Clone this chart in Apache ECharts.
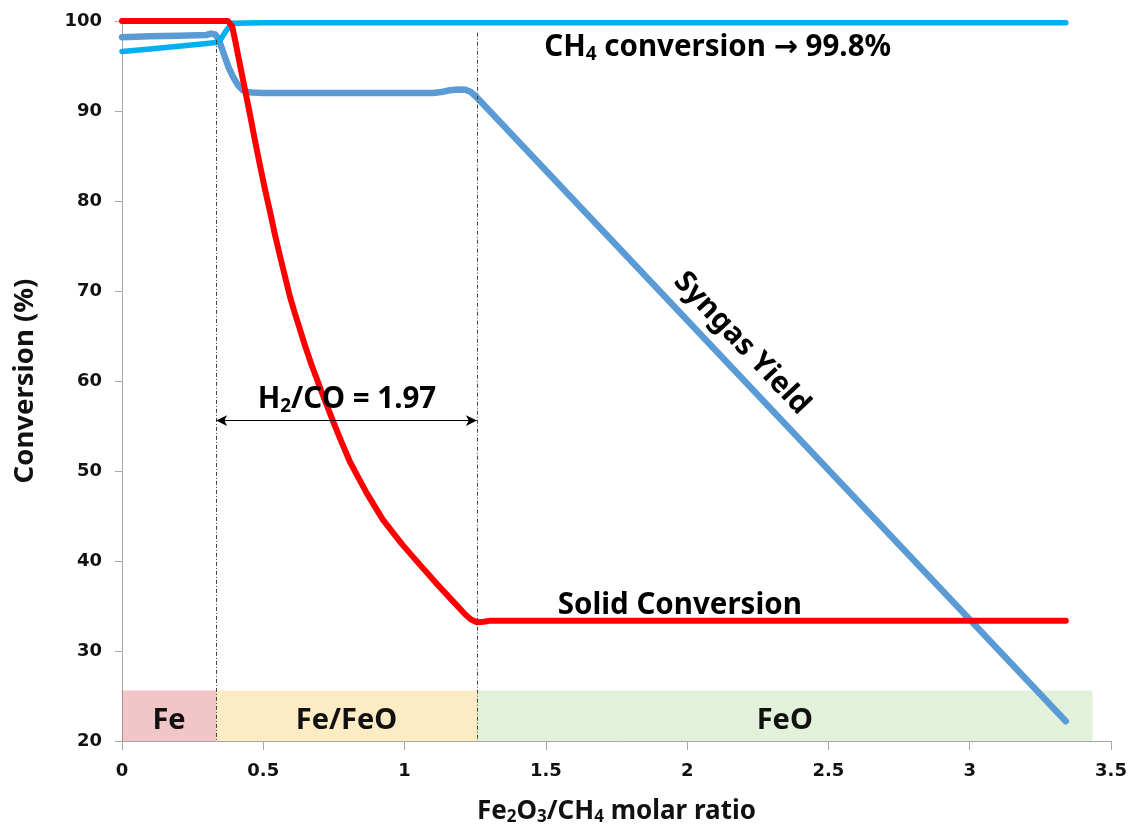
<!DOCTYPE html>
<html>
<head>
<meta charset="utf-8">
<script src="https://cdn.jsdelivr.net/npm/echarts@6/dist/echarts.min.js"></script>
<style>
  html, body { margin: 0; padding: 0; background: #ffffff; }
  #chart { width: 1136px; height: 831px; }
</style>
</head>
<body>
<div id="chart"></div>
<script>
// Fe2O3/CH4 molar ratio vs. conversion (%)
const ratioSolid = [0, 0.1, 0.2, 0.3, 0.375, 0.39, 0.4, 0.417, 0.435, 0.453, 0.47, 0.488, 0.506, 0.524, 0.541, 0.559, 0.577, 0.594, 0.612, 0.63, 0.651, 0.672, 0.71, 0.746, 0.777, 0.807, 0.865, 0.923, 0.99, 1.054, 1.11, 1.16, 1.19, 1.213, 1.235, 1.256, 1.28, 1.3, 1.5, 2.0, 2.5, 3.0, 3.34];
const solidConversion = [100, 100, 100, 100, 100, 99.4, 97.9, 95.2, 92.4, 89.6, 86.8, 84.0, 81.3, 78.8, 76.3, 73.9, 71.6, 69.4, 67.5, 65.7, 63.6, 61.7, 58.5, 55.6, 53.2, 51.0, 47.6, 44.6, 41.9, 39.6, 37.6, 35.9, 34.9, 34.1, 33.5, 33.2, 33.25, 33.35, 33.35, 33.35, 33.35, 33.35, 33.35];

const ratioCH4 = [0, 0.1, 0.2, 0.3, 0.333, 0.35, 0.37, 0.39, 0.5, 1.0, 1.5, 2.0, 2.5, 3.0, 3.34];
const ch4Conversion = [96.6, 96.9, 97.2, 97.5, 97.6, 98.0, 99.0, 99.75, 99.8, 99.8, 99.8, 99.8, 99.8, 99.8, 99.8];

const ratioSyngas = [0, 0.1, 0.2, 0.3, 0.315, 0.33, 0.343, 0.353, 0.364, 0.378, 0.393, 0.41, 0.428, 0.445, 0.46, 0.5, 0.8, 1.1, 1.13, 1.16, 1.19, 1.215, 1.235, 1.256, 3.34];
const syngasYield = [98.2, 98.3, 98.35, 98.45, 98.6, 98.5, 97.9, 97.0, 96.0, 94.8, 93.8, 92.9, 92.3, 92.1, 92.05, 92.0, 92.0, 92.0, 92.1, 92.3, 92.4, 92.35, 92.1, 91.5, 22.2];

// phase regions along the ratio axis
const phaseNames = ['Fe', 'Fe/FeO', 'FeO'];
const phaseBounds = [0, 0.333, 1.256, 3.435];
const phaseColors = ['rgba(212,92,98,0.35)', 'rgba(249,198,86,0.35)', 'rgba(175,215,149,0.35)'];
const phaseLow = 20, phaseHigh = 25.6;

// phase boundaries (dash-dot guides)
const boundaryX = [0.333, 1.256];
const boundaryTop = [97.9, 98.7];

// H2/CO span
const h2coSpan = [0.333, 1.256];
const h2coLevel = 55.6;

const pairs = (xs, ys) => xs.map((x, i) => [x, ys[i]]);

const chart = echarts.init(document.getElementById('chart'), null, { renderer: 'canvas' });

const tickFont = { fontFamily: 'DejaVu Sans', fontWeight: 'bold', fontSize: 18, color: '#111' };
const titleFont = 'Noto Sans';

chart.setOption({
  animation: false,
  backgroundColor: '#ffffff',
  grid: { left: 122, right: 25, top: 21, bottom: 90, containLabel: false, outerBoundsMode: 'none' },
  xAxis: {
    type: 'value', min: 0, max: 3.5, interval: 0.5,
    axisLine: { show: true, lineStyle: { color: '#a6a6a6', width: 1 } },
    axisTick: { show: true, length: 9, lineStyle: { color: '#a6a6a6' } },
    splitLine: { show: false },
    axisLabel: Object.assign({ margin: 21 }, tickFont),
    name: '{b|Fe}{s|2}{b|O}{s|3}{b|/CH}{s|4}{b| molar ratio}',
    nameLocation: 'middle', nameGap: 56,
    nameTextStyle: {
      rich: {
        b: { fontFamily: titleFont, fontWeight: 'bold', fontSize: 26, color: '#111' },
        s: { fontFamily: titleFont, fontWeight: 'bold', fontSize: 17, color: '#111', padding: [12, 0, 0, 0] }
      }
    }
  },
  yAxis: {
    type: 'value', min: 20, max: 100, interval: 10,
    axisLine: { show: true, lineStyle: { color: '#a6a6a6', width: 1 } },
    axisTick: { show: true, length: 7, lineStyle: { color: '#a6a6a6' } },
    splitLine: { show: false },
    axisLabel: Object.assign({ margin: 20 }, tickFont),
    name: 'Conversion (%)',
    nameLocation: 'middle', nameGap: 83,
    nameTextStyle: { fontFamily: titleFont, fontWeight: 'bold', fontSize: 27.5, color: '#111' }
  },
  series: [
    {
      name: 'Syngas Yield', type: 'line', z: 2,
      data: pairs(ratioSyngas, syngasYield),
      showSymbol: false, smooth: false,
      lineStyle: { color: '#5b9bd5', width: 6.5, cap: 'round', join: 'round' }
    },
    {
      name: 'CH4 conversion', type: 'line', z: 3,
      data: pairs(ratioCH4, ch4Conversion),
      showSymbol: false, smooth: false,
      lineStyle: { color: '#00b0f0', width: 5.5, cap: 'round', join: 'round' }
    },
    {
      name: 'Solid Conversion', type: 'line', z: 4,
      data: pairs(ratioSolid, solidConversion),
      showSymbol: false, smooth: false,
      lineStyle: { color: '#ff0000', width: 6, cap: 'round', join: 'round' }
    },
    {
      // phase bands, guides and the H2/CO span marker
      name: 'phases', type: 'line', z: 6, data: [],
      markArea: {
        silent: true,
        data: phaseNames.map((n, i) => [
          {
            name: n, xAxis: phaseBounds[i], yAxis: phaseLow,
            itemStyle: { color: phaseColors[i] },
            label: {
              show: true, position: 'inside', offset: [0, 5],
              fontFamily: titleFont, fontWeight: 'bold', fontSize: 29, color: '#111'
            }
          },
          { xAxis: phaseBounds[i + 1], yAxis: phaseHigh }
        ])
      },
      markLine: {
        silent: true,
        animation: false,
        data: boundaryX.map((x, i) => [
          { coord: [x, boundaryTop[i]], symbol: 'none', lineStyle: { color: '#444', width: 1, type: [4, 2, 1, 2] } },
          { coord: [x, phaseLow], symbol: 'none' }
        ]).concat([[
          { coord: [h2coSpan[0], h2coLevel], symbol: 'arrow', symbolSize: [8, 11], lineStyle: { color: '#000', width: 1, type: 'solid' } },
          { coord: [h2coSpan[1], h2coLevel], symbol: 'arrow', symbolSize: [8, 11] }
        ]]),
        label: { show: false }
      }
    }
  ]
});

// text annotations anchored in data space
const annotations = [
  { at: [2.108, 97.0], rot: 0, text: '{b|CH}{s|4}{b| conversion }{a|→}{b| 99.8%}' },
  { at: [0.796, 57.9], rot: 0, text: '{b|H}{s|2}{b|/CO = 1.97}' },
  { at: [1.974, 35.1], rot: 0, text: '{b|Solid Conversion}' },
  { at: [2.193, 64.2], rot: -0.815, text: '{b|Syngas Yield}' }
];
const annRich = {
  b: { fontFamily: titleFont, fontWeight: 'bold', fontSize: 29.5, color: '#111' },
  s: { fontFamily: titleFont, fontWeight: 'bold', fontSize: 19, color: '#111', padding: [13, 0, 0, 0] },
  a: { fontFamily: 'DejaVu Sans', fontWeight: 'bold', fontSize: 29, color: '#111' }
};
chart.setOption({
  graphic: annotations.map(a => {
    const p = chart.convertToPixel({ gridIndex: 0 }, a.at);
    return {
      type: 'text', x: p[0], y: p[1], rotation: a.rot, z: 20,
      style: { text: a.text, rich: annRich, align: 'center', verticalAlign: 'middle' }
    };
  })
});
</script>
</body>
</html>
